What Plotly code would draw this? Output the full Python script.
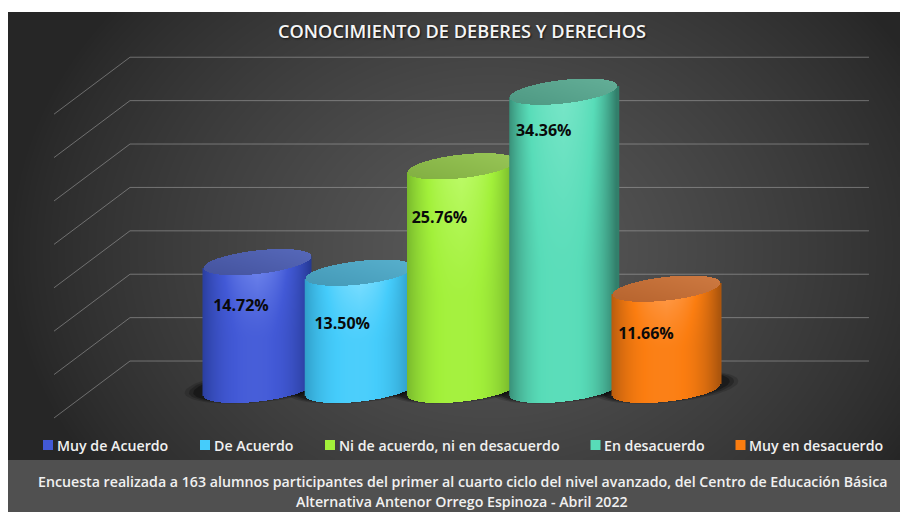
import numpy as np
import plotly.graph_objects as go

# ---- data ----
categories = ["Muy de Acuerdo", "De Acuerdo", "Ni de acuerdo, ni en desacuerdo", "En desacuerdo", "Muy en desacuerdo"]
values = [14.72, 13.50, 25.76, 34.36, 11.66]
value_labels = ["14.72%", "13.50%", "25.76%", "34.36%", "11.66%"]
grid_values = [0, 5, 10, 15, 20, 25, 30, 35]
title_text = "CONOCIMIENTO DE DEBERES Y DERECHOS"
footer_lines = [
    "Encuesta realizada a 163 alumnos participantes del primer al cuarto ciclo del nivel avanzado, del Centro de Educación Básica",
    "Alternativa Antenor Orrego Espinoza - Abril 2022",
]

# ---- style ----
FONT = "Open Sans"
body_dark = ["#263a96", "#2c96bf", "#70ae2a", "#327f6b", "#ad560d"]
body_base = ["#4259d6", "#45ccfb", "#a2f03a", "#58dcb8", "#fb7d10"]
body_light = ["#7288ee", "#83e0ff", "#bdfb6a", "#79e6c8", "#ff9d50"]
top_dark = ["#45549f", "#459ab8", "#83b043", "#4f9a84", "#b8652f"]
top_light = ["#5567b8", "#56aecb", "#96c455", "#62ad96", "#cc7840"]
legend_swatch_x = [48, 205, 330, 595.5, 740.5]
legend_text_x = [57, 214, 339, 604, 749]
label_dx = [-16, -17, -22, -20, -20]
label_dy = [45, 53, 53, 41, 47]

# ---- scales: pixel geometry of the plot in the picture ----
PX_PER_UNIT = 8.68
PX_PER_CAT = 102.25
ZERO_Y = 389.5
FIRST_X = 257.0
xr = [(0 - FIRST_X) / PX_PER_CAT, (900 - FIRST_X) / PX_PER_CAT]
yr = [(ZERO_Y - 512) / PX_PER_UNIT, ZERO_Y / PX_PER_UNIT]
A = 54 / PX_PER_CAT       # half bar width
B = 11.8 / PX_PER_UNIT    # ellipse half height
TILT = 5.8 / PX_PER_UNIT  # ellipse tilt
dx = 1 / PX_PER_CAT
dy = 1 / PX_PER_UNIT
DEPTH = 3.28              # depth of the floor in value units

fig = go.Figure()

# ---- background ----
gx = np.arange(10, 901, 4.0)
gy = np.arange(14, 459, 4.0)
X, Y = np.meshgrid(gx, gy)
r = np.sqrt(((X - 490) / 480) ** 2 + ((Y - 250) / 390) ** 2)
bg = np.clip(1 - r, 0, 1) ** 0.85
fig.add_trace(go.Heatmap(x=gx, y=gy, z=bg, zmin=0, zmax=1, zsmooth="best", showscale=False, hoverinfo="skip",
                         colorscale=[[0, "#262626"], [1, "#5c5c5c"]], xaxis="x", yaxis="y"))

# ---- legend swatches and text ----
annotations = []
for i, c in enumerate(categories):
    fig.add_trace(go.Scatter(x=[legend_swatch_x[i]], y=[445], mode="markers", showlegend=False, hoverinfo="skip",
                             marker=dict(symbol="square", size=10, color=body_base[i]), xaxis="x", yaxis="y"))
    annotations.append(dict(x=legend_text_x[i], y=445, xref="x", yref="y", text=c, showarrow=False, xanchor="left",
                            xshift=-2, font=dict(family=FONT, size=14.2, color="#f0f0f0", weight=600)))

annotations.append(dict(x=462, y=31, xref="x", yref="y", text=title_text, showarrow=False,
                        font=dict(family=FONT, size=18.2, color="#f5f5f5", weight=600,
                                  shadow="1px 1px 2px rgba(0,0,0,0.7)")))
for line, ypx in zip(footer_lines, [481, 501]):
    annotations.append(dict(x=462, y=ypx, xref="x", yref="y", text=line, showarrow=False,
                            font=dict(family=FONT, size=14.2, color="#f0f0f0", weight=600)))

# ---- gridlines (wall + side) ----
for v in grid_values:
    fig.add_trace(go.Scatter(x=[-1.985, -1.242, 5.985], y=[v - DEPTH, v + DEPTH, v + DEPTH], mode="lines",
                             line=dict(color="rgba(190,190,190,0.45)", width=1), showlegend=False,
                             hoverinfo="skip", xaxis="x2", yaxis="y2"))

# ---- bars carrying the values ----
for i, c in enumerate(categories):
    fig.add_trace(go.Bar(x=[i], y=[values[i]], width=0.9, name=c, marker=dict(color=body_base[i], line=dict(width=0)),
                         showlegend=False, xaxis="x2", yaxis="y2", hovertemplate=c + ": %{y:.2f}%<extra></extra>"))

# ---- floor shadows ----
t = np.linspace(0, 2 * np.pi, 80)
for i in range(len(categories)):
    for scale, op in [(1.34, 0.16), (1.26, 0.22), (1.18, 0.32)]:
        fig.add_trace(go.Scatter(x=i + A * scale * np.cos(t),
                                 y=0.3 + TILT * np.cos(t) + B * scale * np.sin(t),
                                 mode="lines", fill="toself", line=dict(width=0),
                                 fillcolor=f"rgba(0,0,0,{op})", showlegend=False, hoverinfo="skip",
                                 xaxis="x2", yaxis="y2"))

# ---- cylinders ----
for i, val in enumerate(values):
    cols = np.arange(i - A, i + A + dx, dx)
    u = np.clip((cols - i) / A, -1, 1)
    rows = np.arange(-B - TILT - dy, val + B + TILT + dy, dy)
    Yg, Ug = np.meshgrid(rows, u, indexing="ij")
    Sg = np.sqrt(1 - Ug ** 2)
    bottom = TILT * Ug - B * Sg
    top_low = val + TILT * Ug - B * Sg
    top_up = val + TILT * Ug + B * Sg

    vfrac = np.clip(Yg / max(val, 1e-6), 0, 1)
    # horizontal: dark rim, vertical: light upper band fading to a saturated base
    edge = np.abs(Ug + 0.05) ** 2.6
    upper = np.clip((vfrac - 0.4) / 0.6, 0, 1) ** 1.4
    shade = 0.66 + 0.34 * upper * (1 - np.abs(Ug)) - 0.62 * edge
    shade = np.clip(shade, 0, 1)
    body = np.where((Yg >= bottom) & (Yg <= top_low), shade, np.nan)
    fig.add_trace(go.Heatmap(x=cols, y=rows, z=body, zmin=0, zmax=1, showscale=False, hoverinfo="skip",
                             colorscale=[[0, body_dark[i]], [0.62, body_base[i]], [1, body_light[i]]],
                             xaxis="x3", yaxis="y3"))
    cap_shade = np.clip(0.5 + 0.5 * (Ug * 0.6 + (Yg - val) / (2 * B)), 0, 1)
    cap = np.where((Yg > top_low) & (Yg <= top_up), cap_shade, np.nan)
    fig.add_trace(go.Heatmap(x=cols, y=rows, z=cap, zmin=0, zmax=1, showscale=False, hoverinfo="skip",
                             colorscale=[[0, top_dark[i]], [1, top_light[i]]],
                             xaxis="x3", yaxis="y3"))

# ---- value labels ----
fig.add_trace(go.Scatter(
    x=[i + label_dx[i] / PX_PER_CAT for i in range(len(values))],
    y=[values[i] - label_dy[i] / PX_PER_UNIT for i in range(len(values))],
    text=value_labels, mode="text", textposition="middle center", showlegend=False, hoverinfo="skip",
    textfont=dict(family=FONT, size=16, color="#0a0a0a", weight=700), xaxis="x3", yaxis="y3"))

hidden = dict(visible=False, fixedrange=True, showgrid=False, zeroline=False)
fig.update_layout(
    width=900, height=512, margin=dict(l=0, r=0, t=0, b=0), autosize=False,
    paper_bgcolor="#ffffff", plot_bgcolor="rgba(0,0,0,0)", showlegend=False, barmode="overlay",
    xaxis=dict(range=[0, 900], domain=[0, 1], **hidden),
    yaxis=dict(range=[512, 0], domain=[0, 1], **hidden),
    xaxis2=dict(range=xr, overlaying="x", anchor="y2", **hidden),
    yaxis2=dict(range=yr, overlaying="y", anchor="x2", **hidden),
    xaxis3=dict(range=xr, overlaying="x", anchor="y3", **hidden),
    yaxis3=dict(range=yr, overlaying="y", anchor="x3", **hidden),
    annotations=annotations,
    shapes=[dict(type="rect", xref="x", yref="y", x0=8, x1=900, y0=460, y1=512, fillcolor="#505050",
                 line=dict(width=0), layer="below")],
)
fig.write_html("out.html", config=dict(displayModeBar=False),
               post_script="document.body.style.margin='0';document.documentElement.style.overflow='hidden';")
